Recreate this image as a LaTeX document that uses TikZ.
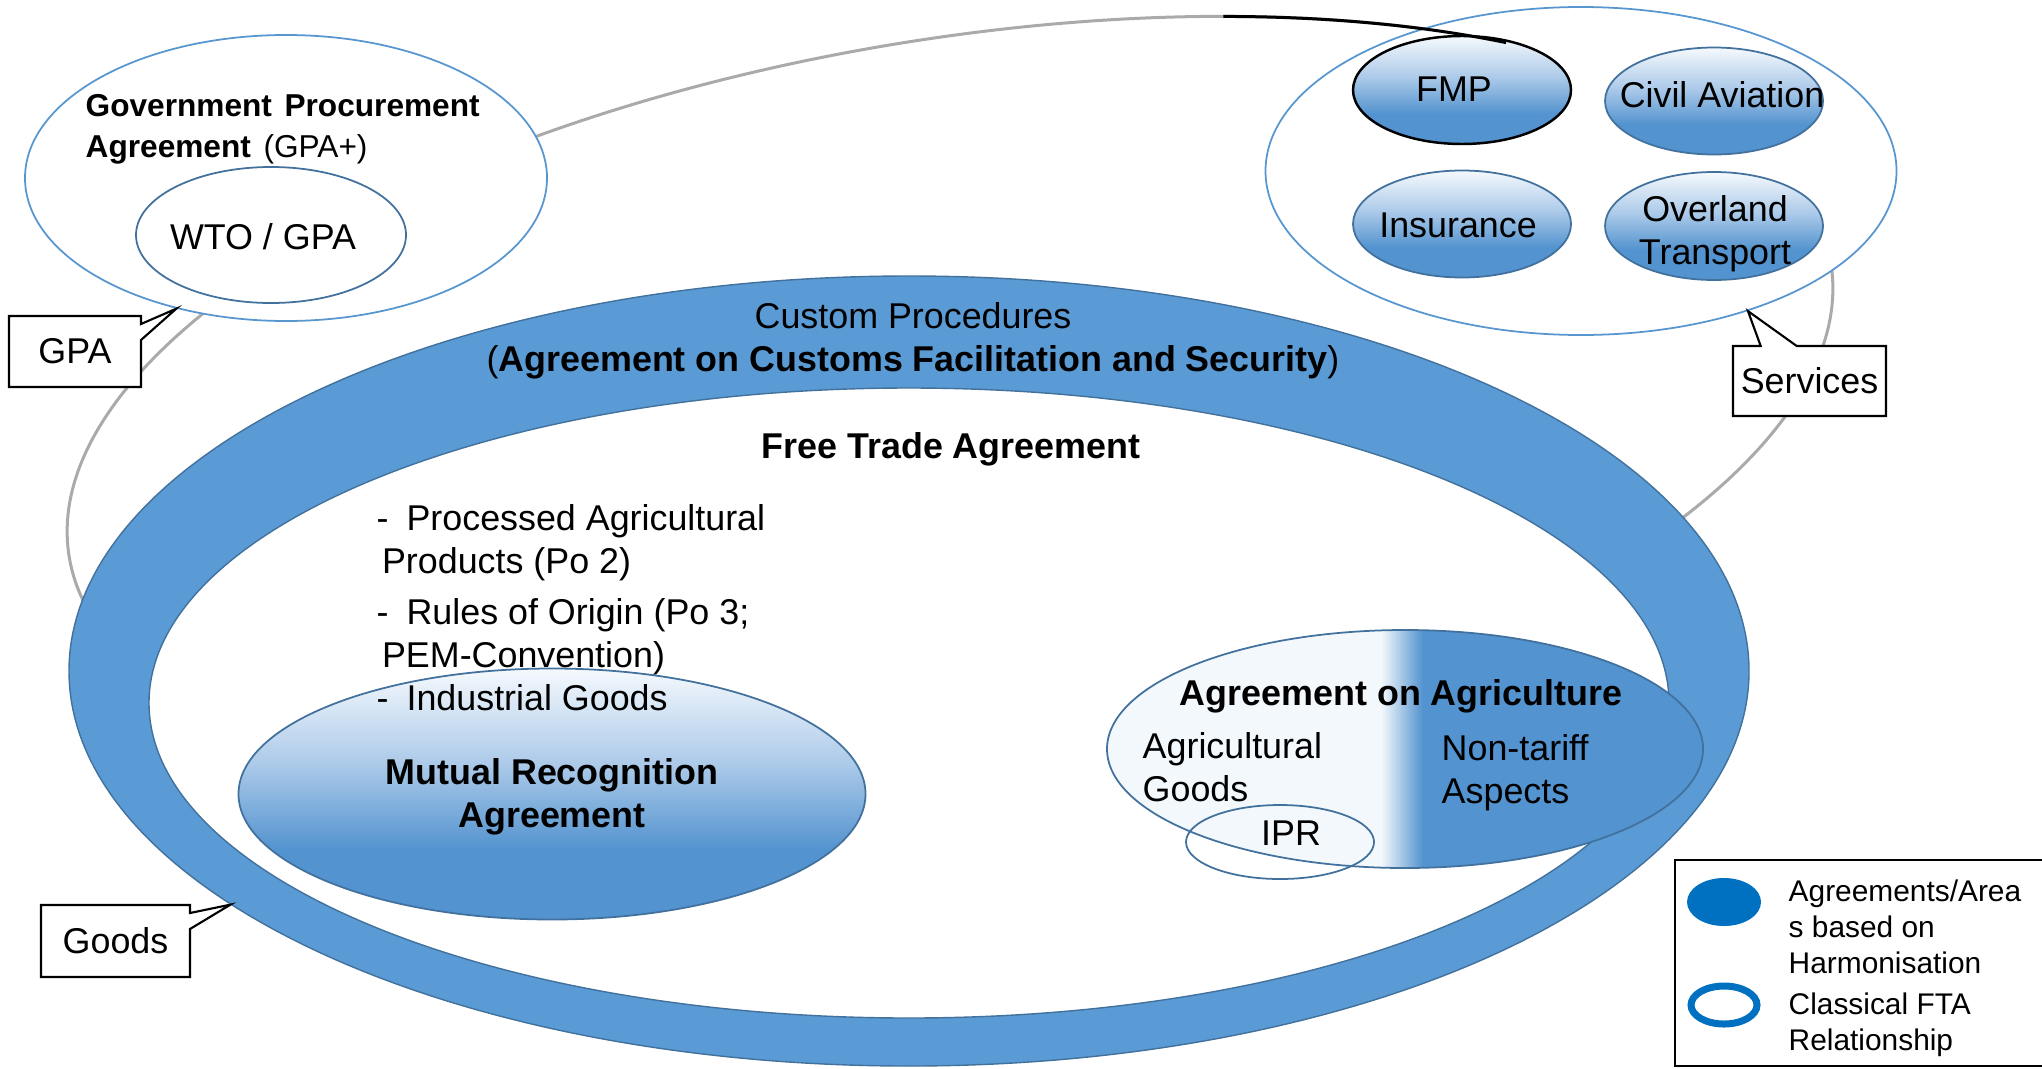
\documentclass[tikz,border=0pt]{standalone}
\usepackage{fontspec}
\setmainfont{Liberation Sans}
\usetikzlibrary{shapes.geometric,shapes.callouts}

\definecolor{ringblue}{RGB}{91,155,213}
\definecolor{edgeblue}{RGB}{65,113,156}
\definecolor{lineblue}{RGB}{88,150,208}
\definecolor{harmoblue}{RGB}{83,147,207}
\definecolor{harmomid}{RGB}{172,202,233}
\definecolor{harmolight}{RGB}{245,249,253}
\definecolor{agrilight}{RGB}{243,248,252}
\definecolor{loopgray}{RGB}{170,170,170}
\definecolor{keyblue}{RGB}{0,112,192}

\pgfdeclareverticalshading{harmofill}{100bp}{color(0bp)=(harmoblue); color(39bp)=(harmoblue); color(56bp)=(harmomid); color(75bp)=(harmolight); color(100bp)=(harmolight)}
\pgfdeclarehorizontalshading{agrifill}{100bp}{color(0bp)=(agrilight); color(48bp)=(agrilight); color(51.5bp)=(harmoblue); color(100bp)=(harmoblue)}

\tikzset{
  area/.style={ellipse, draw=lineblue, line width=0.5pt, fill=white, inner sep=0pt},
  harmo/.style={ellipse, draw=edgeblue, line width=0.5pt, shade, shading=harmofill, inner sep=0pt},
  tag/.style={rectangle callout, draw=black, fill=white, line width=0.6pt, inner sep=0pt, callout pointer width=0.16cm},
}

\begin{document}
\begin{tikzpicture}[font=\fontsize{10.2}{12.3}\selectfont]
  \useasboundingbox (0,0) rectangle (20.42,-10.68);
  % grey loop behind everything
  \draw[loopgray, line width=0.03cm, rotate around={9.5:(9.50,-4.10)}] (9.50,-4.10) ellipse [x radius=8.93, y radius=3.70];

  % government procurement
  \node[area, minimum width=5.22cm, minimum height=2.86cm] (gpa) at (2.86,-1.78) {};
  \node[area, draw=edgeblue, minimum width=2.70cm, minimum height=1.36cm] (wto) at (2.71,-2.35) {};
  \node[anchor=north west, align=left, inner sep=0pt, font=\fontsize{9}{11.6}\selectfont] (gpatitle) at (0.85,-0.94)
    {\textbf{Government\hspace{0.12em} Procurement}\\\textbf{Agreement}\hspace{0.12em} (GPA+)};
  \node (wtotext) at (2.63,-2.37) {WTO / GPA};

  % services
  \node[area, minimum width=6.31cm, minimum height=3.28cm] (services) at (15.81,-1.71) {};
  \node[harmo, draw=black, line width=0.7pt, minimum width=2.18cm, minimum height=1.08cm] (fmp) at (14.62,-0.90) {};
  \node[harmo, minimum width=2.18cm, minimum height=1.07cm] (civil) at (17.14,-1.01) {};
  \node[harmo, minimum width=2.18cm, minimum height=1.07cm] (insurance) at (14.62,-2.24) {};
  \node[harmo, minimum width=2.18cm, minimum height=1.08cm] (overland) at (17.14,-2.26) {};
  \draw[line width=0.03cm, shift={(9.50,-4.10)}, rotate=9.5] (47:8.93 and 3.70) arc [start angle=47, end angle=68, x radius=8.93, y radius=3.70];
  \node (fmptext) at (14.54,-0.89) {FMP};
  \node (civiltext) at (17.22,-0.95) {Civil Aviation};
  \node (insurancetext) at (14.58,-2.25) {Insurance};
  \node[align=center] (overlandtext) at (17.15,-2.335) {Overland\\Transport};

  % goods ring
  \node[ellipse, fill=ringblue, draw=edgeblue, line width=0.4pt, minimum width=16.80cm, minimum height=7.90cm] (goods) at (9.09,-6.71) {};
  \node[ellipse, fill=white, draw=edgeblue, line width=0.4pt, minimum width=15.20cm, minimum height=6.30cm] (fta) at (9.09,-7.03) {};
  \node (customs) at (9.13,-3.16) {Custom Procedures};
  \node (cafs) at (9.13,-3.62) {(\textbf{Agreement on Customs Facilitation and Security})};
  \node[font=\fontsize{10.2}{12.3}\selectfont\bfseries] (ftatext) at (9.51,-4.49) {Free Trade Agreement};

  % inside the FTA
  \node[harmo, minimum width=6.27cm, minimum height=2.51cm] (mra) at (5.52,-7.94) {};
  \node[anchor=north west, align=left, inner sep=0pt] (items) at (3.76,-5.04)
    {-\hspace{0.5em}Processed Agricultural\\\hspace*{0.15em}Products (Po 2)\\[2pt]-\hspace{0.5em}Rules of Origin (Po 3;\\\hspace*{0.15em}PEM-Convention)\\-\hspace{0.5em}Industrial Goods};
  \node[align=center, font=\fontsize{10.2}{12.3}\selectfont\bfseries] (mratext) at (5.52,-7.97) {Mutual Recognition\\Agreement};

  \node[ellipse, draw=edgeblue, line width=0.5pt, shade, shading=agrifill, inner sep=0pt, minimum width=5.96cm, minimum height=2.38cm] (agri) at (14.05,-7.49) {};
  \node[ellipse, draw=edgeblue, line width=0.5pt, inner sep=0pt, minimum width=1.88cm, minimum height=0.74cm] (ipr) at (12.80,-8.42) {};
  \node[font=\fontsize{10.2}{12.3}\selectfont\bfseries] (agritext) at (14.01,-6.96) {Agreement on Agriculture};
  \node[anchor=west, align=left, inner sep=0pt] (agrigoods) at (11.42,-7.67) {Agricultural\\Goods};
  \node[anchor=west, align=left, inner sep=0pt] (nontariff) at (14.41,-7.73) {Non-tariff\\Aspects};
  \node (iprtext) at (12.91,-8.33) {IPR};

  % callouts
  \node[tag, minimum width=1.32cm, minimum height=0.71cm, callout absolute pointer={(gpa.230)}] (gpatag) at (0.75,-3.515) {GPA\hspace{0.2cm}};
  \node[tag, minimum width=1.49cm, minimum height=0.72cm, callout absolute pointer={(goods.199)}] (goodstag) at (1.155,-9.41) {Goods\hspace{0.08cm}};
  \node[tag, minimum width=1.53cm, minimum height=0.70cm, callout pointer width=0.36cm, callout absolute pointer={(services.320)}] (servicestag) at (18.095,-3.81) {Services};

  % legend
  \draw[line width=0.6pt, fill=white] (16.75,-8.60) rectangle (20.55,-10.66);
  \node[ellipse, fill=keyblue, inner sep=0pt, minimum width=0.74cm, minimum height=0.48cm] (keyharmo) at (17.24,-9.02) {};
  \node[ellipse, draw=keyblue, line width=0.07cm, inner sep=0pt, minimum width=0.66cm, minimum height=0.38cm] (keyfta) at (17.24,-10.05) {};
  \node[anchor=west, align=left, inner sep=0pt, font=\fontsize{8.5}{10.2}\selectfont] (keyharmotext) at (17.88,-9.27) {Agreements/Area\\s based on\\Harmonisation};
  \node[anchor=west, align=left, inner sep=0pt, font=\fontsize{8.5}{10.2}\selectfont] (keyftatext) at (17.88,-10.25) {Classical FTA\\Relationship};
\end{tikzpicture}
\end{document}
